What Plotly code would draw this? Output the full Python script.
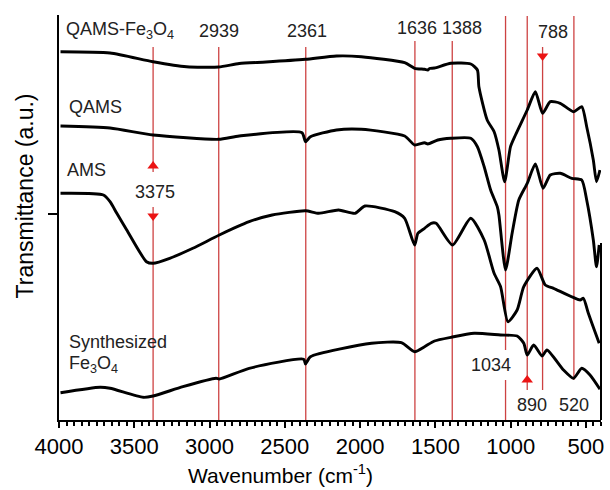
import plotly.graph_objects as go

# ---------------- data ----------------
qams_fe3o4_wn = [3990, 3661, 3375, 3153, 2940, 2803, 2625, 2363, 2157, 1992, 1704, 1638, 1572, 1550, 1539,
                 1506, 1397, 1265, 1221, 1211, 1156, 1110, 1078, 1040, 1001, 968, 890, 836, 788, 737, 671,
                 583, 528, 495, 451, 430, 407]
qams_fe3o4_t = [368.3, 367, 358.3, 353.3, 353, 356.5, 358, 360.7, 364, 363.3, 357.3, 351.7, 350.7, 350, 351.5,
                352, 356.7, 356, 350, 333.3, 300, 288.3, 270, 238.3, 273.3, 285, 310, 328.3, 306.7, 318.3, 316.7,
                308.3, 313.3, 293.3, 260, 238.3, 250]

qams_wn = [3990, 3661, 3375, 2940, 2803, 2386, 2363, 2330, 2157, 1992, 1704, 1638, 1572, 1550, 1484,
           1397, 1265, 1221, 1176, 1133, 1089, 1078, 1034, 990, 946, 890, 836, 785, 737, 671, 594, 528,
           495, 451, 430, 412]
qams_t = [294, 292, 285, 280.7, 284, 287.3, 278.3, 283.3, 290, 290.7, 284, 275, 277.3, 276, 280,
          281.7, 281.7, 273.3, 253.3, 230, 213.3, 205, 150, 187, 220, 236.7, 256, 231.7, 245, 246.7, 241.7, 240,
          220, 180, 153.3, 175]

ams_wn = [3990, 3705, 3661, 3616, 3550, 3419, 3375, 3265, 3111, 2935, 2737, 2584, 2363, 2275, 2143, 2034,
          1968, 1770, 1704, 1638, 1616, 1572, 1528, 1495, 1386, 1265, 1176, 1110, 1067, 1018, 957, 913,
          825, 770, 715, 539, 517, 484, 440, 412]
ams_t = [226.7, 225, 218.3, 206.7, 190, 158.3, 156.7, 161.7, 171.7, 185, 198.3, 205, 209.3, 206.7, 210, 206.7,
         214, 208.3, 201.7, 175, 186.7, 191.7, 196.7, 196.7, 175, 201.7, 180, 146.7, 133.3, 98.3, 110, 133.3,
         151.7, 135, 131.7, 120, 121.7, 106.7, 88.3, 76.7]

fe3o4_wn = [3990, 3727, 3661, 3441, 3375, 3177, 2957, 2935, 2737, 2375, 2363, 2330, 1924, 1726, 1638, 1572,
            1506, 1397, 1242, 1067, 957, 913, 890, 847, 792, 759, 649, 583, 528, 473, 407]
fe3o4_t = [27.3, 32.7, 31.7, 22.7, 24, 33.3, 41.7, 41, 51.7, 60.7, 56, 63.3, 76.7, 77.3, 68.3, 73.3,
           79, 82.7, 86.7, 85, 84, 76.7, 65, 75, 64, 70, 50, 41.7, 51.7, 45, 30.7]

x_ticks = [4000, 3500, 3000, 2500, 2000, 1500, 1000, 500]
peak_labels = ["3375", "2939", "2361", "1636", "1388", "1034", "890", "788", "520"]

# ---------------- figure ----------------
BLACK = "black"
RED_LINE = "rgba(200,45,45,0.9)"
RED = "rgb(235,20,20)"
FONT = "Arial, Liberation Sans, sans-serif"

fig = go.Figure()
for wn, t in [(qams_fe3o4_wn, qams_fe3o4_t), (qams_wn, qams_t), (ams_wn, ams_t), (fe3o4_wn, fe3o4_t)]:
    fig.add_trace(go.Scatter(x=wn, y=t, mode="lines", line=dict(color=BLACK, width=2.9, shape="spline", smoothing=0.6),
                             showlegend=False, hoverinfo="skip"))

# red marker lines (wavenumber, from, to)
segments = [(3375, 373, 248), (3375, 213, 0), (2939, 373, 0), (2361, 373, 0), (1636, 379, 0), (1388, 379, 0),
            (1034, 404, 70), (1034, 40, 0), (890, 404, 30), (788, 373, 30), (580, 404, 40)]
for wn, y0, y1 in segments:
    fig.add_shape(type="line", x0=wn, x1=wn, y0=y0, y1=y1, xref="x", yref="y",
                  line=dict(color=RED_LINE, width=1.3), layer="below")

# arrow heads as triangle markers
fig.add_trace(go.Scatter(x=[3375, 890], y=[254, 40], mode="markers", showlegend=False, hoverinfo="skip",
                         marker=dict(symbol="triangle-up", size=10, color=RED, line=dict(width=0))))
fig.add_trace(go.Scatter(x=[3375, 788], y=[204, 364], mode="markers", showlegend=False, hoverinfo="skip",
                         marker=dict(symbol="triangle-down", size=10, color=RED, line=dict(width=0))))

# text labels
labels = [
    ("QAMS-Fe<sub>3</sub>O<sub>4</sub>", 3970, 390, "left"),
    ("QAMS", 3945, 313, "left"),
    ("AMS", 3960, 250, "left"),
    ("Synthesized", 3945, 78, "left"),
    ("Fe<sub>3</sub>O<sub>4</sub>", 3945, 56, "left"),
    (peak_labels[0], 3360, 228, "center"),
    (peak_labels[1], 2935, 389, "center"),
    (peak_labels[2], 2350, 389, "center"),
    (peak_labels[3], 1625, 392, "center"),
    (peak_labels[4], 1320, 392, "center"),
    (peak_labels[5], 1128, 55, "center"),
    (peak_labels[6], 858, 15, "center"),
    (peak_labels[7], 720, 388, "center"),
    (peak_labels[8], 580, 15, "center"),
]
for txt, x, y, anc in labels:
    fig.add_annotation(x=x, y=y, xref="x", yref="y", text=txt, showarrow=False, xanchor=anc, yanchor="middle",
                       font=dict(family=FONT, size=18, color="#222"))

# right partial frame line
fig.add_shape(type="line", x0=1, x1=1, y0=0, y1=177, xref="paper", yref="y", line=dict(color=BLACK, width=2))

# axis titles as annotations
fig.add_annotation(x=0.409, y=-0.133, xref="paper", yref="paper", text="Wavenumber (cm<sup>-1</sup>)",
                   showarrow=False, xanchor="center", yanchor="middle", font=dict(family=FONT, size=21, color=BLACK))
fig.add_annotation(x=-0.062, y=0.553, xref="paper", yref="paper", text="Transmittance (a.u.)", textangle=-90,
                   showarrow=False, xanchor="center", yanchor="middle", font=dict(family=FONT, size=23, color=BLACK))

fig.update_layout(
    width=610, height=490,
    margin=dict(l=59, r=6, t=15, b=70),
    paper_bgcolor="white", plot_bgcolor="white",
    font=dict(family=FONT, color=BLACK),
    xaxis=dict(range=[4000, 400], tickvals=x_ticks, ticktext=[str(v) for v in x_ticks],
               showline=True, linecolor=BLACK, linewidth=2, ticks="outside", ticklen=6, tickwidth=2,
               tickcolor=BLACK, showgrid=False, zeroline=False, tickfont=dict(size=22, family=FONT),
               minor=dict(dtick=50, tick0=0, ticks="outside", ticklen=3.5, tickwidth=1.5, tickcolor=BLACK, showgrid=False)),
    yaxis=dict(range=[0, 405], tickvals=[206], showticklabels=False, showline=True, linecolor=BLACK, linewidth=2,
               ticks="outside", ticklen=9, tickwidth=2, tickcolor=BLACK, showgrid=False, zeroline=False),
)

fig.write_html("out.html")
